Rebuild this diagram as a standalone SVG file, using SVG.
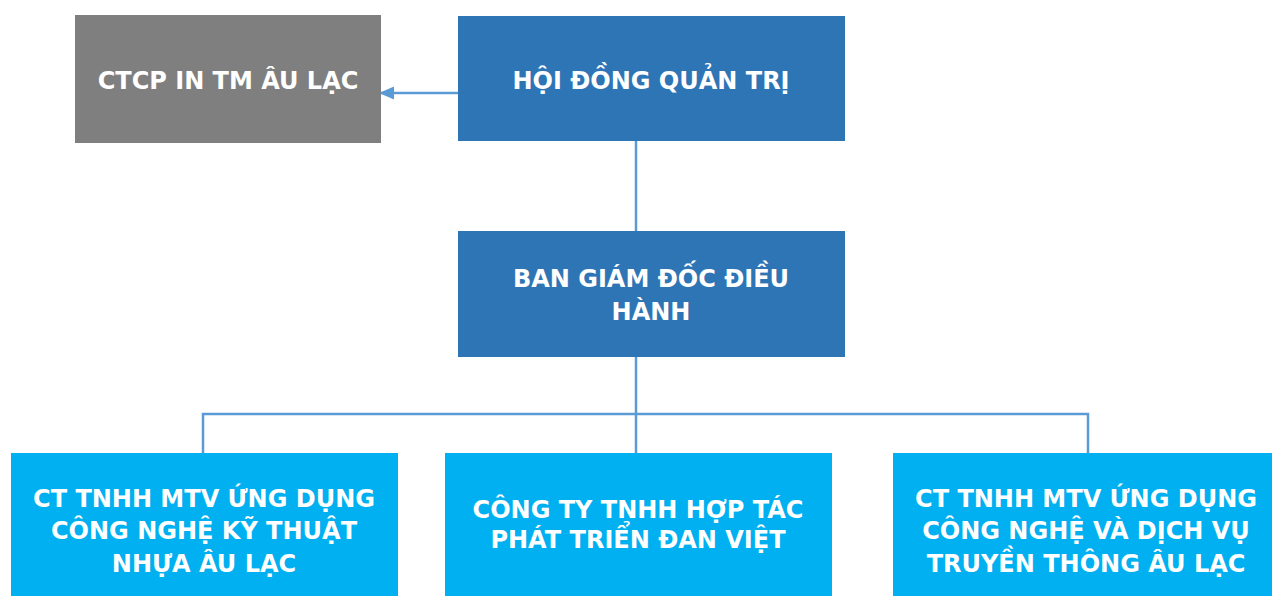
<svg xmlns="http://www.w3.org/2000/svg" width="1272" height="596" viewBox="0 0 1272 596">
<style>
.t{font-family:"DejaVu Sans","Noto Sans",sans-serif;font-weight:bold;font-size:24px;fill:#ffffff;text-anchor:middle}
.c{stroke:#5B9BD5;stroke-width:2.5;fill:none}
</style>
<defs>
<marker id="ah" markerWidth="16" markerHeight="14" refX="15" refY="6.5" orient="auto" markerUnits="userSpaceOnUse">
<path d="M0,0 L15,6.5 L0,13 Z" fill="#5B9BD5"/>
</marker>
</defs>
<rect width="1272" height="596" fill="#ffffff"/>
<g id="connectors">
<path class="c" d="M458,93 L379,93" marker-end="url(#ah)"/>
<path class="c" d="M636,141 L636,231"/>
<path class="c" d="M636,357 L636,453"/>
<path class="c" d="M203,453 L203,414 L1088,414 L1088,453"/>
</g>
<g id="ctcp">
<rect x="75" y="15" width="306" height="128" fill="#7F7F7F"/>
<text class="t" x="228" y="89">CTCP IN TM ÂU LẠC</text>
</g>
<g id="hdqt">
<rect x="458" y="16" width="387" height="125" fill="#2E75B6"/>
<text class="t" x="651" y="89">HỘI ĐỒNG QUẢN TRỊ</text>
</g>
<g id="bgd">
<rect x="458" y="231" width="387" height="126" fill="#2E75B6"/>
<text class="t" x="651" y="287">BAN GIÁM ĐỐC ĐIỀU</text>
<text class="t" x="651" y="320">HÀNH</text>
</g>
<g id="ct1">
<rect x="11" y="453" width="387" height="143" fill="#00B0F0"/>
<text class="t" x="204" y="507">CT TNHH MTV ỨNG DỤNG</text>
<text class="t" x="204" y="539">CÔNG NGHỆ KỸ THUẬT</text>
<text class="t" x="204" y="572">NHỰA ÂU LẠC</text>
</g>
<g id="ct2">
<rect x="445" y="453" width="387" height="143" fill="#00B0F0"/>
<text class="t" x="638" y="518">CÔNG TY TNHH HỢP TÁC</text>
<text class="t" x="638" y="548">PHÁT TRIỂN ĐAN VIỆT</text>
</g>
<g id="ct3">
<rect x="893" y="453" width="387" height="143" fill="#00B0F0"/>
<text class="t" x="1086" y="507">CT TNHH MTV ỨNG DỤNG</text>
<text class="t" x="1086" y="539">CÔNG NGHỆ VÀ DỊCH VỤ</text>
<text class="t" x="1086" y="572">TRUYỀN THÔNG ÂU LẠC</text>
</g>
</svg>
